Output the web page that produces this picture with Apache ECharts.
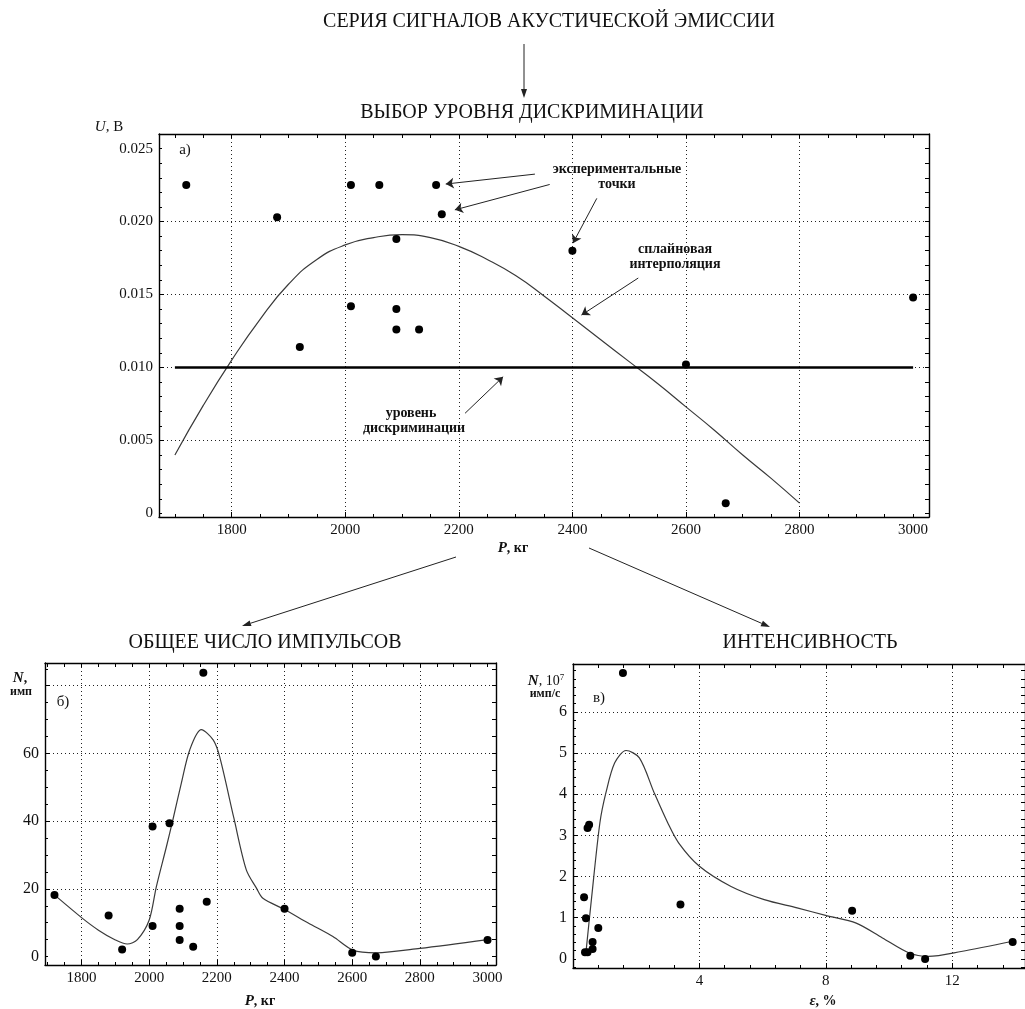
<!DOCTYPE html>
<html><head><meta charset="utf-8">
<script src="https://cdn.jsdelivr.net/npm/echarts@6/dist/echarts.min.js"></script>
<style>html,body{margin:0;padding:0;background:#fff}#c{width:1025px;height:1009px}</style>
</head><body><div id="c"></div>
<script>
// ---------- DATA ----------
// load P (kg) of the experimental points (shared by charts a and б)
const pLoad   = [1720, 1880, 1920, 2010, 2010, 2060, 2090, 2090, 2090, 2130, 2160, 2170, 2400, 2600, 2670, 3000];
// chart а): amplitude U, V
const uValues = [0.0225, 0.0203, 0.0114, 0.0225, 0.0142, 0.0225, 0.0188, 0.0140, 0.0126, 0.0126, 0.0225, 0.0205, 0.0180, 0.0102, 0.0007, 0.0148];
const splineP = [1700, 1750, 1800, 1850, 1900, 1950, 2000, 2050, 2100, 2150, 2200, 2250, 2300, 2350, 2400, 2450, 2500, 2550, 2600, 2650, 2700, 2750, 2800];
const splineU = [0.0040, 0.0074, 0.0105, 0.0133, 0.0157, 0.0174, 0.0184, 0.0189, 0.0191, 0.0189, 0.0183, 0.0174, 0.0163, 0.0149, 0.0134, 0.0119, 0.0104, 0.0089, 0.0073, 0.0057, 0.0040, 0.0024, 0.0007];
const discrimLevel = 0.010;
const discrimRange = [1700, 3000];
// chart б): total number of pulses N
const nValues = [18.2, 12.1, 2.1, 38.4, 9.0, 39.4, 14.1, 9.0, 4.9, 2.9, 83.8, 16.2, 14.1, 1.1, 0.0, 4.9];
const curveNP = [1720, 1800, 1850, 1900, 1935, 1965, 2000, 2021, 2051, 2070, 2095, 2120, 2154, 2189, 2208, 2250, 2287, 2317, 2336, 2400, 2470, 2543, 2602, 2671, 2800, 3000];
const curveN  = [18.2, 11.5, 7.8, 4.9, 3.7, 5.0, 10.8, 20.6, 32.5, 40.4, 51.2, 61.1, 67.0, 64.0, 59.1, 41.0, 25.6, 20.2, 17.2, 13.9, 9.9, 5.9, 1.9, 1.1, 2.4, 5.0];
// chart в): intensity N (10^7 pulses/s) vs strain ε, %
const epsPts  = [0.35, 0.41, 0.38, 0.46, 0.62, 0.62, 0.80, 0.46, 0.51, 1.58, 3.40, 8.83, 10.67, 11.14, 13.91];
const intPts  = [1.50, 0.99, 0.16, 0.16, 0.24, 0.41, 0.75, 3.18, 3.26, 6.94, 1.32, 1.17, 0.08, 0.00, 0.41];
const curveEps = [0.41, 0.59, 0.85, 1.04, 1.32, 1.68, 2.10, 2.57, 3.00, 3.34, 4.00, 5.00, 6.05, 7.09, 8.02, 8.96, 9.79, 10.62, 11.24, 12.28, 13.91];
const curveInt = [0.16, 1.50, 3.30, 4.03, 4.76, 5.06, 4.88, 4.03, 3.30, 2.82, 2.25, 1.76, 1.44, 1.24, 1.05, 0.87, 0.51, 0.15, 0.06, 0.18, 0.43];
// tick labels / grid values
const aXLabels = [1800, 2000, 2200, 2400, 2600, 2800, 3000];
const aXGrid   = [1800, 2000, 2200, 2400, 2600, 2800];
const aYLabels = [0, 0.005, 0.010, 0.015, 0.020, 0.025];
const aYGrid   = [0.005, 0.010, 0.015, 0.020];
const bXLabels = [1800, 2000, 2200, 2400, 2600, 2800, 3000];
const bXGrid   = [1800, 2000, 2200, 2400, 2600, 2800];
const bYLabels = [0, 20, 40, 60];
const bYGrid   = [20, 40, 60, 80];
const cXLabels = [4, 8, 12];
const cXGrid   = [4, 8, 12];
const cYLabels = [0, 1, 2, 3, 4, 5, 6];
const cYGrid   = [1, 2, 3, 4, 5, 6];
// annotation arrows inside chart а) (data coordinates: from -> to)
const annotArrows = [
  [[2334, 0.02325], [2177, 0.02257]],
  [[2360, 0.02254], [2193, 0.02080]],
  [[2443, 0.02159], [2401, 0.01852]],
  [[2516, 0.01613], [2416, 0.01359]],
  [[2211, 0.00686], [2278, 0.00936]]
];

// ---------- HELPERS ----------
const FONT = '"Liberation Serif", "DejaVu Serif", serif';
const zip = (a, b) => a.map((v, i) => [v, b[i]]);
function steps(a, b, s) { const r = []; for (let v = a; v <= b + s * 1e-6; v += s) r.push(Math.round(v * 1e6) / 1e6); return r; }
function without(list, ex) { return list.filter(v => !ex.some(e => Math.abs(e - v) < 1e-9)); }

function axes(dim, gi, min, max, grid, labels, minorStep, fmt, fs) {
  const pos = dim === 'x' ? ['bottom', 'top'] : ['left', 'right'];
  const allTicks = steps(Math.ceil(min / minorStep) * minorStep, max, minorStep);
  const minor = without(allTicks, grid);
  const base = { type: 'value', gridIndex: gi, min: min, max: max };
  return [
    Object.assign({}, base, {
      position: pos[0],
      axisLine: { show: true, onZero: false, lineStyle: { color: '#000', width: 1.4 } },
      axisTick: { show: true, inside: true, length: 5, customValues: grid, lineStyle: { color: '#000', width: 1 } },
      axisLabel: { show: true, customValues: labels, formatter: fmt, color: '#111', fontFamily: FONT, fontSize: fs, margin: 6 },
      splitLine: { show: true, lineStyle: { color: '#222', type: [1, 3], width: 1 } }
    }),
    Object.assign({}, base, {
      position: pos[0],
      axisLine: { show: false, onZero: false },
      axisTick: { show: true, inside: true, length: 3, customValues: minor, lineStyle: { color: '#000', width: 1 } },
      axisLabel: { show: false }, splitLine: { show: false }
    }),
    Object.assign({}, base, {
      position: pos[1],
      axisLine: { show: true, onZero: false, lineStyle: { color: '#000', width: 1.4 } },
      axisTick: { show: true, inside: true, length: 4, customValues: allTicks, lineStyle: { color: '#000', width: 1 } },
      axisLabel: { show: false }, splitLine: { show: false }
    })
  ];
}

function arrow(x1, y1, x2, y2) {
  const a = Math.atan2(y2 - y1, x2 - x1), L = 9, W = 3;
  const bx = x2 - L * Math.cos(a), by = y2 - L * Math.sin(a);
  const px = -Math.sin(a) * W, py = Math.cos(a) * W;
  return [
    { type: 'line', shape: { x1: x1, y1: y1, x2: bx, y2: by }, style: { stroke: '#222', lineWidth: 1 }, silent: true },
    { type: 'polygon', shape: { points: [[x2, y2], [bx + px, by + py], [bx - px, by - py]] }, style: { fill: '#222' }, silent: true }
  ];
}
function txt(x, y, text, opts) {
  return { type: 'text', silent: true, style: Object.assign({ text: text, x: x, y: y, fill: '#111', fontFamily: FONT, fontSize: 15,
    textAlign: 'center', textVerticalAlign: 'middle' }, opts || {}) };
}

const fmtA = v => v === 0 ? '0' : v.toFixed(3);
const fmtI = v => String(Math.round(v));

const xAxes = [].concat(
  axes('x', 0, 1672, 3028, aXGrid, aXLabels, 50, fmtI, 15),
  axes('x', 1, 1692, 3025, bXGrid, bXLabels, 50, fmtI, 15),
  axes('x', 2, 0, 14.3, cXGrid, cXLabels, 0.8, fmtI, 15)
);
const yAxes = [].concat(
  axes('y', 0, -0.00025, 0.026, aYGrid, aYLabels, 0.001, fmtA, 15),
  axes('y', 1, -2.5, 86.7, bYGrid, bYLabels, 5, fmtI, 16),
  axes('y', 2, -0.22, 7.16, cYGrid, cYLabels, 0.2, fmtI, 16)
);

const dot = { symbol: 'circle', symbolSize: 8, itemStyle: { color: '#000', opacity: 1 }, z: 5 };
const curve = { showSymbol: false, smooth: 0.3, lineStyle: { color: '#3a3a3a', width: 1.2 }, z: 3 };

const series = [
  Object.assign({ type: 'line', xAxisIndex: 0, yAxisIndex: 0, data: zip(splineP, splineU) }, curve, { smooth: 0.5 }),
  { type: 'line', xAxisIndex: 0, yAxisIndex: 0, data: [[discrimRange[0], discrimLevel], [discrimRange[1], discrimLevel]],
    showSymbol: false, lineStyle: { color: '#000', width: 2.6 }, z: 4,
    markLine: { silent: true, symbol: ['none', 'arrow'], symbolSize: 8, label: { show: false },
      lineStyle: { color: '#222', width: 1, type: 'solid' }, animation: false,
      data: annotArrows.map(a => [{ coord: a[0] }, { coord: a[1] }]) } },
  Object.assign({ type: 'scatter', xAxisIndex: 0, yAxisIndex: 0, data: zip(pLoad, uValues) }, dot),
  Object.assign({ type: 'line', xAxisIndex: 3, yAxisIndex: 3, data: zip(curveNP, curveN) }, curve),
  Object.assign({ type: 'scatter', xAxisIndex: 3, yAxisIndex: 3, data: zip(pLoad, nValues) }, dot),
  Object.assign({ type: 'line', xAxisIndex: 6, yAxisIndex: 6, data: zip(curveEps, curveInt) }, curve),
  Object.assign({ type: 'scatter', xAxisIndex: 6, yAxisIndex: 6, data: zip(epsPts, intPts) }, dot)
];

const bold14 = { fontSize: 14, fontWeight: 'bold' };
const ital = { fontStyle: 'italic', fontWeight: 'bold', fontFamily: FONT, fontSize: 15 };
const graphic = [].concat(
  txt(549, 22, 'СЕРИЯ СИГНАЛОВ АКУСТИЧЕСКОЙ ЭМИССИИ', { fontSize: 20 }),
  arrow(524, 44, 524, 98),
  txt(532, 113, 'ВЫБОР УРОВНЯ ДИСКРИМИНАЦИИ', { fontSize: 20 }),
  txt(265, 643, 'ОБЩЕЕ ЧИСЛО ИМПУЛЬСОВ', { fontSize: 20 }),
  txt(810, 643, 'ИНТЕНСИВНОСТЬ', { fontSize: 20 }),
  arrow(456, 557, 242, 626),
  arrow(589, 548, 770, 627),
  txt(109, 127, '{i|U}, В', { rich: { i: { fontStyle: 'italic', fontFamily: FONT, fontSize: 15 } } }),
  txt(185, 150, 'а)'),
  txt(513, 548, '{i|P}, кг', { fontWeight: 'bold', fontSize: 14, rich: { i: ital } }),
  txt(617, 169, 'экспериментальные', bold14),
  txt(617, 184, 'точки', bold14),
  txt(675, 249, 'сплайновая', bold14),
  txt(675, 264, 'интерполяция', bold14),
  txt(411, 413, 'уровень', bold14),
  txt(414, 428, 'дискриминации', bold14),
  txt(20, 678, '{i|N},', { fontWeight: 'bold', fontSize: 14, rich: { i: ital } }),
  txt(21, 692, 'имп', { fontWeight: 'bold', fontSize: 12 }),
  txt(63, 702, 'б)'),
  txt(260, 1001, '{i|P}, кг', { fontWeight: 'bold', fontSize: 14, rich: { i: ital } }),
  txt(546, 681, '{i|N}, 10{s|7}', { fontSize: 14, rich: { i: ital, s: { fontSize: 9, fontFamily: FONT, verticalAlign: 'top' } } }),
  txt(545, 694, 'имп/с', { fontSize: 12, fontWeight: 'bold' }),
  txt(599, 698, 'в)'),
  txt(823, 1001, '{i|ε}, %', { fontWeight: 'bold', fontSize: 14, rich: { i: ital } })
);

const chart = echarts.init(document.getElementById('c'), null, { renderer: 'canvas' });
chart.setOption({
  animation: false,
  backgroundColor: '#fff',
  grid: [
    { left: 159, top: 134, width: 770, height: 383 },
    { left: 45, top: 663, width: 451, height: 302 },
    { left: 573, top: 664, width: 459, height: 304 }
  ],
  xAxis: xAxes,
  yAxis: yAxes,
  series: series,
  graphic: graphic
});
</script></body></html>
